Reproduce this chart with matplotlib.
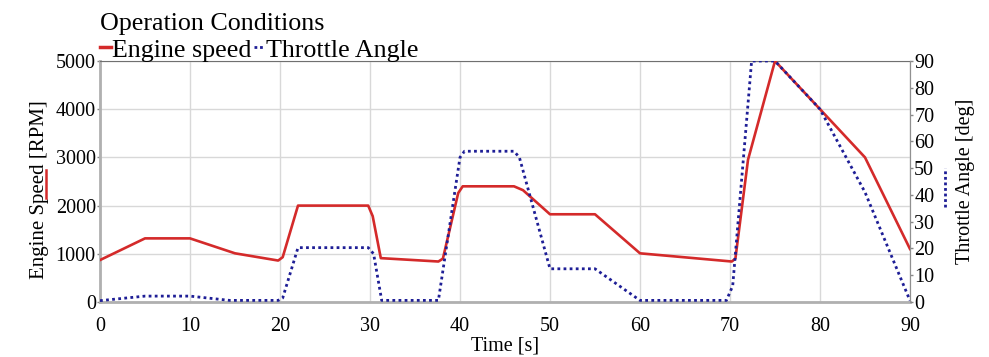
import matplotlib
matplotlib.use("Agg")
import matplotlib.pyplot as plt
from matplotlib.lines import Line2D

plt.rcParams['font.family'] = ['Liberation Serif', 'DejaVu Serif']

# Engine speed [RPM]
t_speed = [0, 5, 10, 15, 19.8, 20.3, 22, 29.8, 30.3, 31.2, 37.6, 38.1, 39.8, 40.3, 46, 47, 50, 55, 60, 70.2, 70.6, 72, 75, 80, 85, 90]
speed = [870, 1320, 1320, 1010, 860, 930, 2000, 2000, 1780, 910, 840, 900, 2260, 2400, 2400, 2320, 1820, 1820, 1010, 840, 900, 2950, 5000, 4000, 3000, 1100]

# Throttle angle [deg]
t_thr = [0, 5, 10, 14.4, 19.8, 20.3, 22, 29.8, 30.4, 31.3, 37.6, 40.0, 40.5, 46, 46.6, 50, 55, 60, 69.6, 70.3, 72.4, 75, 80, 85, 90]
throttle = [0.5, 2.2, 2.2, 0.6, 0.6, 1.5, 20.3, 20.3, 18, 0.6, 0.6, 54, 56.3, 56.3, 54, 12.4, 12.4, 0.6, 0.6, 6, 90, 90, 72, 41, 0.5]

x_ticks = list(range(0, 91, 10))
y_ticks = list(range(0, 5001, 1000))
y2_ticks = list(range(0, 91, 10))

RED = '#d42a2a'
BLUE = '#1e1e96'

fig = plt.figure(figsize=(9.89, 3.57), dpi=100)
ax = fig.add_axes([100/989, 1-302/357, 810/989, 241/357])
ax2 = ax.twinx()

ax.plot(t_speed, speed, color=RED, lw=1.9, zorder=3)
ax2.plot(t_thr, throttle, color=BLUE, lw=2.0, ls=(0, (1, 1.2)), zorder=3)

ax.set_xlim(0, 90)
ax.set_ylim(0, 5000)
ax2.set_ylim(0, 90)
ax.set_xticks(x_ticks)
ax.set_yticks(y_ticks)
ax2.set_yticks(y2_ticks)
ax.grid(True, color='#d8d8d8', lw=1.0)
ax.set_axisbelow(True)

for a in (ax, ax2):
    a.tick_params(labelsize=14.5, length=2.5, width=1, color='#888888', pad=0.5)
ax.tick_params(axis='x', length=0, pad=10.5)

for s in ('left', 'bottom'):
    ax.spines[s].set_color('#b0b0b0')
    ax.spines[s].set_linewidth(2)
ax.spines['top'].set_color('#707070')
ax.spines['right'].set_color('#909090')
for s in ax2.spines.values():
    s.set_visible(False)
ax2.spines['right'].set_visible(True)
ax2.spines['right'].set_color('#909090')

ax.set_xlabel('Time [s]', fontsize=14.5, labelpad=1.0)
ax.set_ylabel('Engine Speed [RPM]', fontsize=15)
ax.yaxis.set_label_coords(-0.0625, 0.465)
ax2.set_ylabel('Throttle Angle [deg]', fontsize=14.5, labelpad=15.5)

fig.text(100/989, 1-30/357, 'Operation Conditions', fontsize=18.7, va='baseline', ha='left')

handles = [Line2D([], [], color=RED, lw=2.5), Line2D([], [], color=BLUE, lw=2, ls=(0, (1, 1)))]
fig.legend(handles, ['Engine speed', 'Throttle Angle'], loc='center left',
           bbox_to_anchor=(100/989, 1-50/357), ncol=2, frameon=False, fontsize=18.7,
           handlelength=0.42, handletextpad=0.05, columnspacing=0.1, borderpad=0, borderaxespad=0)

# small style markers beside axis labels
fig.add_artist(Line2D([46/989, 46/989], [1-198/357, 1-170/357], color=RED, lw=1.8))
fig.add_artist(Line2D([945/989, 945/989], [1-207/357, 1-168/357], color=BLUE, lw=2, ls=(0, (1, 1))))

fig.savefig('out.png', dpi=100)
